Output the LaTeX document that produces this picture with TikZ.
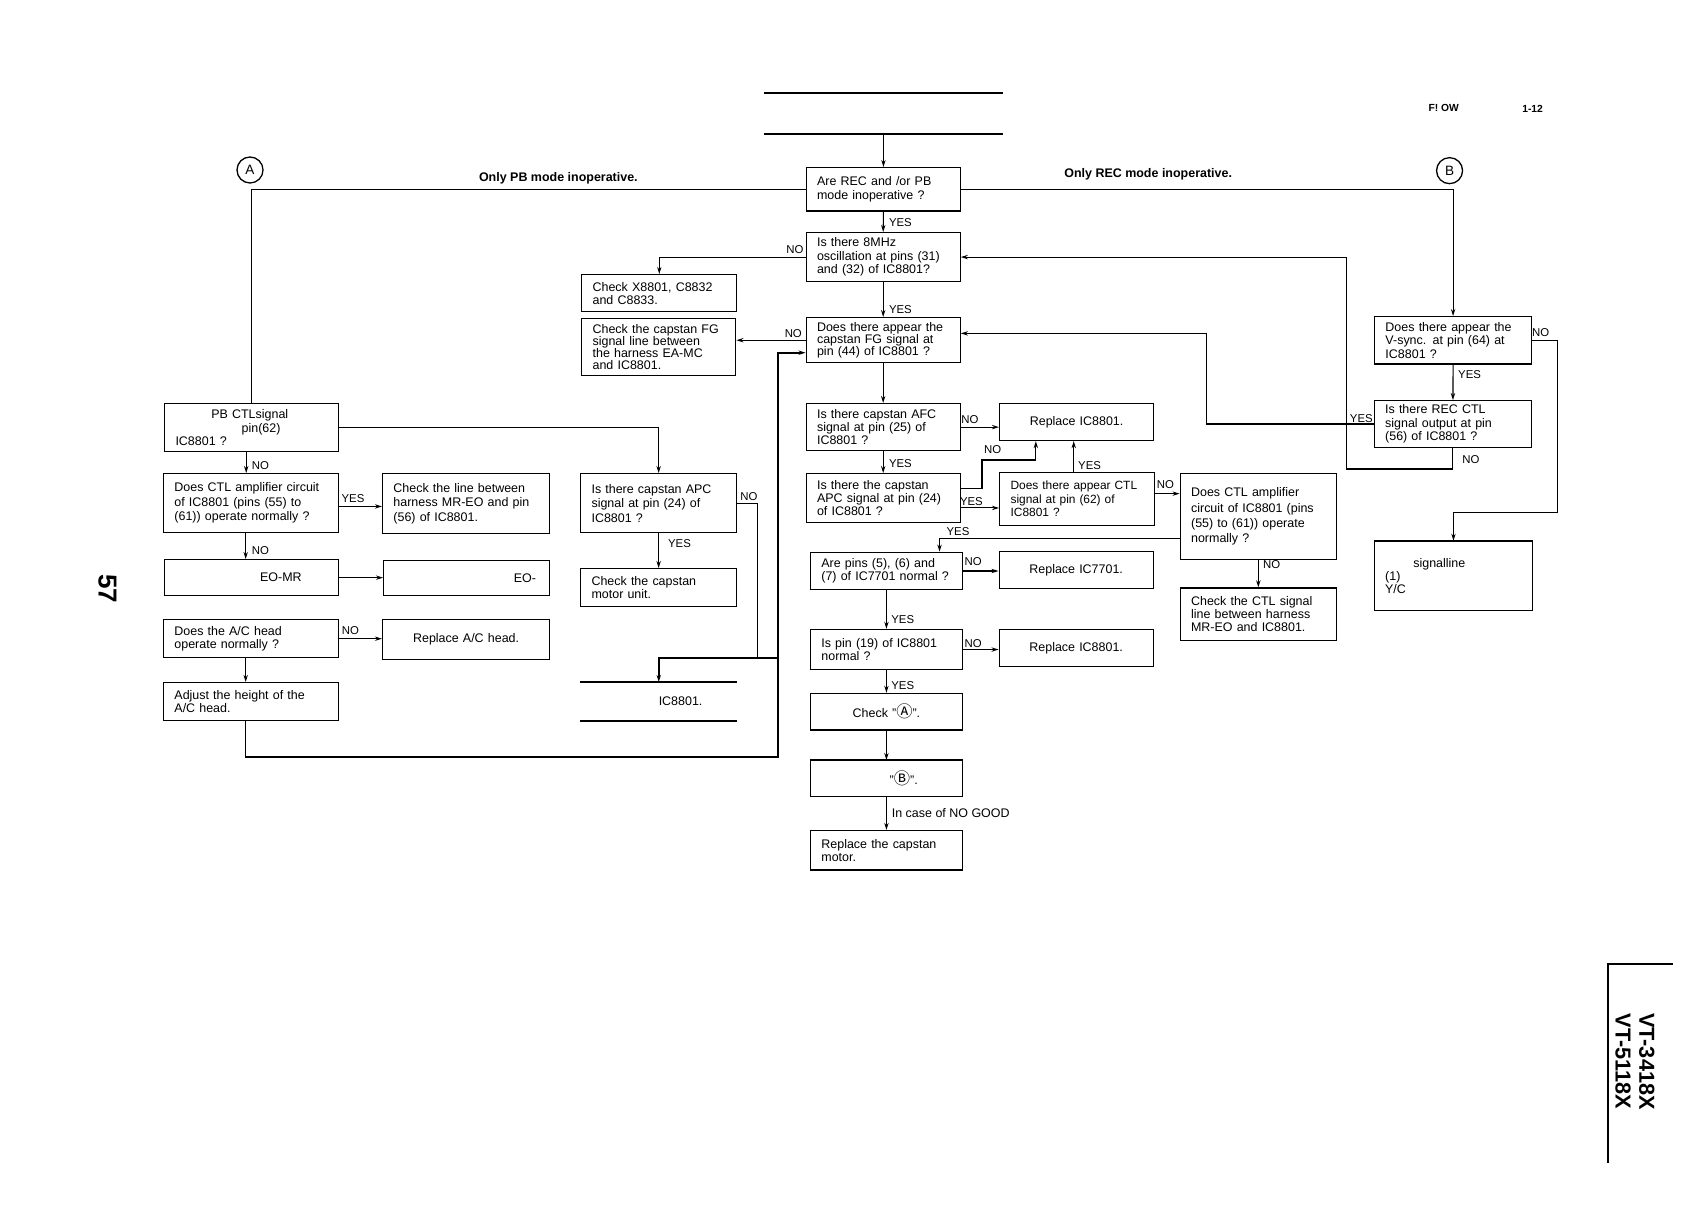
\documentclass[tikz,border=0pt]{standalone}
\usepackage{fontspec}
\setmainfont{Liberation Sans}
\newfontfamily\symbfont{Noto Sans CJK JP}
\usetikzlibrary{arrows.meta}

\tikzset{
  bx/.code 2 args={\pgfmathsetmacro\bxtw{#1-20}%
    \pgfkeysalso{/tikz/draw, /tikz/line width=1.2pt, /tikz/anchor=north west,
      /tikz/minimum width=#1pt, /tikz/minimum height=#2pt,
      /tikz/inner xsep=10pt, /tikz/inner ysep=2pt, /tikz/align=left,
      /tikz/text width/.expanded=\bxtw pt, /tikz/font=\fontsize{11.5}{12.3}\selectfont}},
  bxc/.style 2 args={bx={#1}{#2}, align=center},
}
\newcommand\circA{{\symbfont\fontsize{15}{12}\selectfont Ⓐ}}
\newcommand\circB{{\symbfont\fontsize{15}{12}\selectfont Ⓑ}}

\begin{document}
\begin{tikzpicture}[x=1pt, y=-1pt,
  ln/.style={line width=1pt},
  thk/.style={line width=1.5pt},
  arr/.style={line width=1pt, -{Stealth[length=6.5pt,width=4pt]}},
  lbl/.style={font=\fontsize{10.5}{10.5}\selectfont, inner sep=0pt},
  circ/.style={circle, draw, line width=1.2pt, minimum size=24pt, inner sep=0pt, font=\fontsize{12.5}{12.5}\selectfont},
  mode/.style={font=\bfseries\fontsize{11.5}{11.5}\selectfont, inner sep=0pt}
]
\useasboundingbox (0,0) rectangle (1568,1112);

% page marks
\node[font=\bfseries\fontsize{9.5}{10}\selectfont] (pgflow) at (1331.6,100) {F! OW};
\node[font=\bfseries\fontsize{9.5}{10}\selectfont] (pgno) at (1413.6,100) {1-12};
\node[rotate=-90, font=\bfseries\fontsize{24}{24}\selectfont] (pg57) at (99,543) {57};
\node[rotate=-90, align=center, font=\bfseries\fontsize{20}{22}\selectfont] (vt) at (1508,979) {VT-3418X\\VT-5118X};
\draw[line width=1.4pt] (1543,889) -- (1483,889) -- (1483,1073);

% heading
\node[minimum width=220pt, minimum height=38pt, anchor=north west, inner sep=0pt] (hdr) at (705,85.5) {};
\draw[line width=1.8pt] (hdr.north west) -- (hdr.north east) (hdr.south west) -- (hdr.south east);

% start points
\node[circ] (ca) at (230.6,156.8) {A};
\node[circ] (cb) at (1337,157.4) {B};
\node[mode] (onlypb) at (515,164) {Only PB mode inoperative.};
\node[mode] (onlyrec) at (1059,160.5) {Only REC mode inoperative.};

% centre column
\node[bx={142.5}{40}] (rec) at (743,154) {Are REC and /or PB\\mode inoperative ?};
\node[bx={142}{45}] (osc) at (743,214) {Is there 8MHz\\oscillation at pins (31)\\and (32) of IC8801?};
\node[bx={143}{34.3}] (chkx) at (536,252.7) {Check X8801, C8832\\and C8833.};
\node[bx={142}{53}, font=\fontsize{11.5}{11.2}\selectfont] (chkfg) at (536,293) {Check the capstan FG\\signal line between\\the harness EA-MC\\and IC8801.};
\node[bx={142}{41.6}, font=\fontsize{11.5}{11.2}\selectfont] (fg) at (743,292.4) {Does there appear the\\capstan FG signal at\\pin (44) of IC8801 ?};
\node[bx={142}{43.3}] (afc) at (743,371.7) {Is there capstan AFC\\signal at pin (25) of\\IC8801 ?};
\node[bx={142}{45.2}] (apcb) at (743,436.3) {Is there the capstan\\APC signal at pin (24)\\of IC8801 ?};
\node[bxc={142}{34}] (rep1) at (921.4,371.7) {Replace IC8801.};
\node[bx={142.5}{48.6}, font=\fontsize{11}{12.3}\selectfont] (ctla) at (921.5,435.4) {Does there appear CTL\\signal at pin (62) of\\IC8801 ?};
\node[bx={144}{79.6}, font=\fontsize{11.5}{14}\selectfont] (ampr) at (1088,436) {Does CTL amplifier\\circuit of IC8801 (pins\\(55) to (61)) operate\\normally ?};
\node[bx={144}{48.3}] (chkctl) at (1088,541.7) {Check the CTL signal\\line between harness\\MR-EO and IC8801.};
\node[bx={140}{34.5}] (pins) at (747,508.8) {Are pins (5), (6) and\\(7) of IC7701 normal ?};
\node[bxc={142}{34}] (rep2) at (921,508) {Replace IC7701.};
\node[bx={140}{37}] (pin19) at (747,580) {Is pin (19) of IC8801\\normal ?};
\node[bxc={142}{34}] (rep3) at (921,580) {Replace IC8801.};
\node[bxc={140}{33.6}] (chka) at (747,639) {Check "\circA".};
\node[bx={140}{33}] (chkb) at (747,701) {\hspace*{63pt}"\circB".};
\node[bx={140}{36.3}] (repmot) at (747,765.5) {Replace the capstan\\motor.};

% right column
\node[bx={144.7}{43.5}] (vsync) at (1267.3,291.5) {Does there appear the\\V-sync. at pin (64) at\\IC8801 ?};
\node[bx={145}{43}] (recctl) at (1267,369) {Is there REC CTL\\signal output at pin\\(56) of IC8801 ?};
\node[bx={146}{64}] (sigl) at (1267,498.7) {\hspace*{26pt}signalline\\(1)\\Y/C};
\draw[line width=2pt] (chkb.north west) -- (chkb.north east);
\draw[line width=2pt] (sigl.north west) -- (sigl.north east);

% left column
\node[bx={160.4}{44.3}] (pbctl) at (151.3,371.7) {\hspace*{33pt}PB CTLsignal\\\hspace*{61pt}pin(62)\\IC8801 ?};
\node[bx={161.4}{54.4}, font=\fontsize{11.5}{13.4}\selectfont] (ampl) at (150.3,436.3) {Does CTL amplifier circuit\\of IC8801 (pins (55) to\\(61)) operate normally ?};
\node[bx={154}{55.3}, font=\fontsize{11.5}{13.4}\selectfont] (chkl) at (352.3,436.3) {Check the line between\\harness MR-EO and pin\\(56) of IC8801.};
\node[bx={160.4}{33.2}] (eomr) at (151.3,515.6) {\hspace*{78pt}EO-MR};
\node[bx={153}{32.3}] (eo) at (353.3,516.5) {\hspace*{110pt}EO-};
\node[bx={161.4}{35}] (ach) at (150.3,571) {Does the A/C head\\operate normally ?};
\node[bxc={154}{36.8}] (repac) at (352.3,571) {Replace A/C head.};
\node[bx={161.4}{35}] (adj) at (150.3,629) {Adjust the height of the\\A/C head.};

% centre-left column
\node[bx={143.8}{54.4}, font=\fontsize{11.5}{13.4}\selectfont] (apcl) at (535,436.3) {Is there capstan APC\\signal at pin (24) of\\IC8801 ?};
\node[bx={143.8}{35}] (chkmot) at (535,523.9) {Check the capstan\\motor unit.};
\node[bx={144}{35}, draw=none] (icb) at (535,629) {\hspace*{62pt}IC8801.};
\draw[thk] (icb.north west) -- (icb.north east) (icb.south west) -- (icb.south east);

% connectors
\draw[arr] (hdr.south -| rec.north) -- (rec.north);
\draw[ln] (rec.west) -| (pbctl.north);
\draw[arr] (rec.east) -| (vsync.north);
\draw[arr] (rec.south) -- (osc.north);
\draw[arr] (osc.west) -| (chkx.north);
\draw[arr] (osc.south) -- (fg.north);
\draw[arr] (fg.west) -- (fg.west -| chkfg.east);
\draw[arr] (fg.south) -- (afc.north);
\draw[arr] (afc.east) -- (afc.east -| rep1.west);
\draw[arr] (afc.south) -- (apcb.north);
\coordinate (apcno) at (905.7,424.3);
\draw[arr] ([yshift=-14pt]apcb.north east) -| (apcno) -| ([xshift=34pt]rep1.south west);
\draw[arr] ([yshift=-9pt]apcb.east) -- ([yshift=-9pt]apcb.east -| ctla.west);
\draw[arr] ([xshift=-3pt]ctla.north) -- ([xshift=-3pt]ctla.north |- rep1.south);
\draw[arr] ([yshift=5pt]ctla.east) -- ([yshift=5pt]ctla.east -| ampr.west);
\draw[arr] ([yshift=-20pt]ampr.west) -| ([xshift=49pt]pins.north);
\draw[arr] (ampr.south) -- (chkctl.north);
\draw[arr] (pins.east) -- (pins.east -| rep2.west);
\draw[arr] (pins.south) -- (pin19.north);
\draw[arr] (pin19.east) -- (pin19.east -| rep3.west);
\draw[arr] (pin19.south) -- (chka.north);
\draw[arr] (chka.south) -- (chkb.north);
\draw[arr] (chkb.south) -- (repmot.north);
\draw[arr] (vsync.south) -- (recctl.north);
\coordinate (vsno) at (1436.7,473);
\draw[arr] (vsync.east) -| (vsno) -| (sigl.north);
\coordinate (recyes) at (1113,307.5);
\draw[arr] (recctl.west) -| (recyes) -- (recyes -| fg.east);
\coordinate (recno) at (1241.6,432.6);
\draw[arr] (recctl.south) |- (recno) |- (osc.east);
\draw[arr] (pbctl.east) -| (apcl.north);
\draw[arr] ([xshift=-5pt]pbctl.south) -- ([xshift=-5pt]pbctl.south |- ampl.north);
\draw[arr] ([yshift=-3pt]ampl.east) -- ([yshift=-3pt]ampl.east -| chkl.west);
\draw[arr] ([xshift=-5pt]ampl.south) -- ([xshift=-5pt]ampl.south |- eomr.north);
\draw[arr] (eomr.east) -- (eomr.east -| eo.west);
\draw[arr] (ach.east) -- (ach.east -| repac.west);
\draw[arr] ([xshift=-5pt]ach.south) -- ([xshift=-5pt]ach.south |- adj.north);
\coordinate (loopc) at (717.6,698);
\draw[arr, thk] ([xshift=-5pt]adj.south) |- (loopc) |- ([yshift=-11.5pt]fg.west);
\coordinate (apcno2) at (699,607);
\draw[ln] (apcl.east) -| (apcno2);
\coordinate (icin) at (717.6,607);
\draw[arr, thk] (icin) -| (icb.north);
\draw[arr] (apcl.south) -- (chkmot.north);

% YES / NO labels
\node[lbl] (y1) at (830.5,205.7) {YES};
\node[lbl] (n1) at (733.2,230.6) {NO};
\node[lbl] (y2) at (830.5,285.3) {YES};
\node[lbl] (n2) at (731.7,307.4) {NO};
\node[lbl] (n3) at (894.7,387.4) {NO};
\node[lbl] (y3) at (830.5,428) {YES};
\node[lbl] (n4) at (915.6,415) {NO};
\node[lbl] (y4) at (896,462.7) {YES};
\node[lbl] (y5) at (1005,429) {YES};
\node[lbl] (n5) at (1075,446.7) {NO};
\node[lbl] (y6) at (883.6,490.4) {YES};
\node[lbl] (n6) at (1173,521) {NO};
\node[lbl] (n7) at (897.6,518) {NO};
\node[lbl] (y7) at (832.6,571.8) {YES};
\node[lbl] (n8) at (897.7,593.4) {NO};
\node[lbl] (y8) at (832.6,632.7) {YES};
\node[lbl, anchor=west, font=\fontsize{11.5}{11.5}\selectfont] (nogood) at (822.4,750) {In case of NO GOOD};
\node[lbl] (y9) at (1355.5,345.9) {YES};
\node[lbl] (n9) at (1421,306.5) {NO};
\node[lbl] (y10) at (1255.6,385.8) {YES};
\node[lbl] (n10) at (1356.7,423.7) {NO};
\node[lbl] (n11) at (240.3,429.8) {NO};
\node[lbl] (y11) at (325.6,459.6) {YES};
\node[lbl] (n12) at (240.3,507.9) {NO};
\node[lbl] (n13) at (323.3,581.7) {NO};
\node[lbl] (n14) at (690.7,458.1) {NO};
\node[lbl] (y12) at (626.7,501.8) {YES};
\end{tikzpicture}
\end{document}
